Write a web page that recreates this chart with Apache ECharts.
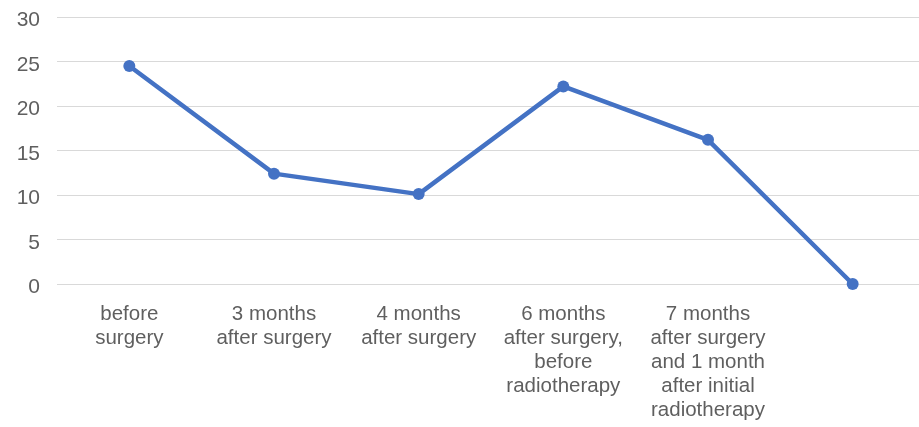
<!DOCTYPE html>
<html>
<head>
<meta charset="utf-8">
<script src="https://cdn.jsdelivr.net/npm/echarts@6/dist/echarts.min.js"></script>
<style>
  html, body { margin: 0; padding: 0; background: #fff; overflow: hidden; }
  #chart { width: 940px; height: 427px; }
</style>
</head>
<body>
<div id="chart"></div>
<script>
// Time points along the course of treatment
const categories = [
  'before\nsurgery',
  '3 months\nafter surgery',
  '4 months\nafter surgery',
  '6 months\nafter surgery,\nbefore\nradiotherapy',
  '7 months\nafter surgery\nand 1 month\nafter initial\nradiotherapy',
  ''
];
// Measured value at each time point
const values = [24.5, 12.4, 10.1, 22.2, 16.2, 0];
// Value axis ticks
const yMin = 0;
const yMax = 30;
const yStep = 5;

const labelFont = '"Liberation Sans", Arial, sans-serif';
const chart = echarts.init(document.getElementById('chart'));
chart.setOption({
  backgroundColor: '#ffffff',
  animation: false,
  grid: { left: 57, top: 17, width: 868, height: 267, containLabel: false },
  xAxis: {
    type: 'category',
    data: categories,
    boundaryGap: true,
    axisLine: { show: false },
    axisTick: { show: false },
    axisLabel: {
      interval: 0,
      margin: 18,
      color: '#5f5f5f',
      fontSize: 20.5,
      lineHeight: 24,
      fontFamily: labelFont
    }
  },
  yAxis: {
    type: 'value',
    min: yMin,
    max: yMax,
    interval: yStep,
    axisLine: { show: false },
    axisTick: { show: false },
    axisLabel: {
      margin: 17,
      formatter: '{v|{value}}',
      rich: {
        v: {
          color: '#5f5f5f',
          fontSize: 21,
          fontFamily: labelFont,
          padding: [7, 0, 0, 0]
        }
      }
    },
    splitLine: { lineStyle: { color: '#d9d9d9', width: 1 } }
  },
  series: [{
    type: 'line',
    data: values,
    symbol: 'circle',
    symbolSize: 12,
    lineStyle: { color: '#4472c4', width: 4.5 },
    itemStyle: { color: '#4472c4' }
  }]
});
</script>
</body>
</html>
